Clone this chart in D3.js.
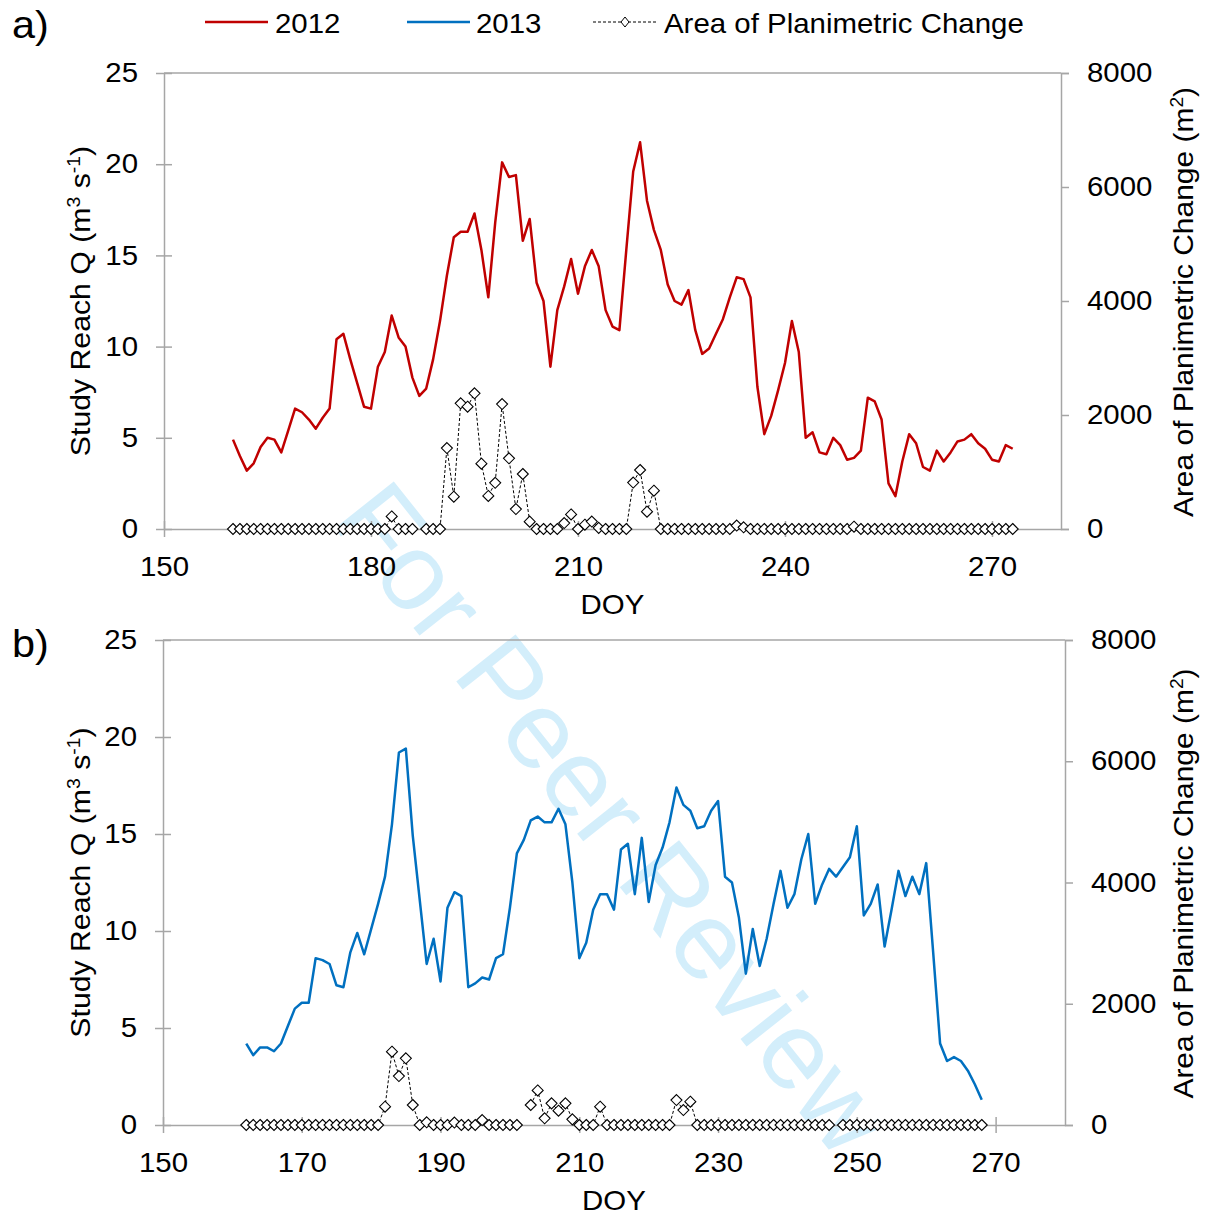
<!DOCTYPE html>
<html>
<head>
<meta charset="utf-8">
<script src="https://cdn.jsdelivr.net/npm/d3@7"></script>
<style>
body { margin: 0; background: #fff; }
text { font-family: "Liberation Sans", Arial, sans-serif; fill: #000; }
</style>
</head>
<body>
<svg id="chart" width="1205" height="1216"></svg>
<script>
// Day of year for each daily value
const doy_2012 = d3.range(160, 274);
const doy_2013 = d3.range(162, 269);

// Study reach discharge (m3 s-1), 2012
const q_2012 = [
    4.9, 4.0, 3.2, 3.6, 4.5, 5.0, 4.9, 4.2, 5.4, 6.6,
    6.4, 6.0, 5.5, 6.1, 6.6, 10.4, 10.7, 9.3, 8.0, 6.7,
    6.6, 8.9, 9.7, 11.7, 10.5, 10.0, 8.3, 7.3, 7.7, 9.3,
    11.4, 13.9, 16.0, 16.3, 16.3, 17.3, 15.3, 12.7, 16.8, 20.1,
    19.3, 19.4, 15.8, 17.0, 13.5, 12.5, 8.9, 12.0, 13.3, 14.8,
    12.9, 14.4, 15.3, 14.4, 12.0, 11.1, 10.9, 15.3, 19.6, 21.2,
    18.0, 16.4, 15.3, 13.4, 12.5, 12.3, 13.1, 10.9, 9.6, 9.9,
    10.7, 11.5, 12.7, 13.8, 13.7, 12.7, 7.8, 5.2, 6.2, 7.6,
    9.1, 11.4, 9.7, 5.0, 5.3, 4.2, 4.1, 5.0, 4.6, 3.8,
    3.9, 4.3, 7.2, 7.0, 6.0, 2.5, 1.8, 3.7, 5.2, 4.7,
    3.4, 3.2, 4.3, 3.7, 4.2, 4.8, 4.9, 5.2, 4.7, 4.4,
    3.8, 3.7, 4.6, 4.4,
];

// Area of planimetric change (m2), 2012; null = no survey that day
const area_2012 = [
    0, 0, 0, 0, 0, 0, 0, 0, 0, 0,
    0, 0, 0, 0, 0, 0, 0, 0, 0, 0,
    0, 0, 0, 220, 0, 0, 0, null, 0, 0,
    0, 1420, 567, 2205, 2146, 2380, 1146, 580, 810, 2192,
    1240, 350, 965, 129, 0, 0, 0, 0, 105, 255,
    0, 75, 130, 20, 0, 0, 0, 0, 815, 1035,
    304, 672, 0, 0, 0, 0, 0, 0, 0, 0,
    0, 0, 0, 60, 30, 0, 0, 0, 0, 0,
    0, 0, 0, 0, 0, 0, 0, 0, 0, 0,
    40, 0, 0, 0, 0, 0, 0, 0, 0, 0,
    0, 0, 0, 0, 0, 0, 0, 0, 0, 0,
    0, 0, 0, 0,
];

// Study reach discharge (m3 s-1), 2013
const q_2013 = [
    4.2, 3.6, 4.0, 4.0, 3.8, 4.2, 5.1, 6.0, 6.3, 6.3,
    8.6, 8.5, 8.3, 7.2, 7.1, 8.9, 9.9, 8.8, 10.1, 11.4,
    12.8, 15.5, 19.2, 19.4, 14.9, 11.6, 8.3, 9.6, 7.4, 11.2,
    12.0, 11.8, 7.1, 7.3, 7.6, 7.5, 8.6, 8.8, 11.2, 14.0,
    14.7, 15.7, 15.9, 15.6, 15.6, 16.3, 15.5, 12.5, 8.6, 9.4,
    11.1, 11.9, 11.9, 11.1, 14.2, 14.5, 11.9, 14.8, 11.5, 13.4,
    14.3, 15.6, 17.4, 16.5, 16.2, 15.3, 15.4, 16.2, 16.7, 12.8,
    12.5, 10.7, 7.8, 10.1, 8.2, 9.6, 11.4, 13.1, 11.2, 11.9,
    13.7, 15.0, 11.4, 12.4, 13.2, 12.8, 13.3, 13.8, 15.4, 10.8,
    11.4, 12.4, 9.2, 11.1, 13.1, 11.8, 12.8, 11.9, 13.5, 8.9,
    4.2, 3.3, 3.5, 3.3, 2.8, 2.1, 1.3,
];

// Area of planimetric change (m2), 2013
const area_2013 = [
    0, 0, 0, 0, 0, 0, 0, 0, 0, 0,
    0, 0, 0, 0, 0, 0, 0, 0, 0, 0,
    302, 1209, 808, 1100, 330, 0, 45, 0, 0, 0,
    40, 0, 0, 0, 82, 0, 0, 0, 0, 0,
    null, 330, 570, 110, 357, 236, 357, 93, 0, 0,
    0, 302, 0, 0, 0, 0, 0, 0, 0, 0,
    0, 0, 412, 247, 385, 0, 0, 0, 0, 0,
    0, 0, 0, 0, 0, 0, 0, 0, 0, 0,
    0, 0, 0, 0, 0, null, 0, 0, 0, 0,
    0, 0, 0, 0, 0, 0, 0, 0, 0, 0,
    0, 0, 0, 0, 0, 0, 0,
];

const x_ticks_a = [150, 180, 210, 240, 270];
const x_ticks_b = [150, 170, 190, 210, 230, 250, 270];
const q_ticks = [0, 5, 10, 15, 20, 25];
const area_ticks = [0, 2000, 4000, 6000, 8000];

const AXIS_GREY = '#a6a6a6';
const FONT = 27;
// the source figure's text is a little wider than Liberation Sans
const SX = 1.09;

const svg = d3.select('#chart');

// Watermark
svg.append('text')
    .attr('transform', 'translate(614, 818) rotate(51.5)')
    .attr('text-anchor', 'middle')
    .attr('dy', '0.35em')
    .attr('font-size', 110)
    .style('fill', '#d3eefb')
    .text('For Peer Review');

function zip(xs, ys) {
    return xs.map((d, i) => ({doy: d, value: ys[i]}));
}

function diamond(r) {
    return `M0,${-r}L${r},0L0,${r}L${-r},0Z`;
}

// text placed at (x, y) and stretched horizontally
function add_text(parent, x, y, size, str) {
    return parent.append('text')
        .attr('transform', `translate(${x}, ${y}) scale(${SX}, 1)`)
        .attr('font-size', size)
        .text(str);
}

function style_axis(g) {
    g.attr('font-size', null).attr('font-family', null);
    g.selectAll('path, line')
        .attr('stroke', AXIS_GREY)
        .attr('stroke-width', 1.5);
    g.selectAll('text')
        .attr('font-size', FONT)
        .attr('transform', `scale(${SX}, 1)`);
}

function draw_panel(cfg) {
    const x = d3.scaleLinear().domain([150, 280]).range([cfg.left, cfg.right]);
    const y = d3.scaleLinear().domain([0, 25]).range([cfg.bottom, cfg.top]);
    const y2 = d3.scaleLinear().domain([0, 8000]).range([cfg.bottom, cfg.top]);

    svg.append('line')
        .attr('x1', cfg.left).attr('x2', cfg.right)
        .attr('y1', cfg.top).attr('y2', cfg.top)
        .attr('stroke', AXIS_GREY).attr('stroke-width', 1.5);

    const gx = svg.append('g')
        .attr('transform', `translate(0, ${cfg.bottom})`)
        .call(d3.axisBottom(x).tickValues(cfg.x_ticks).tickSizeOuter(0)
            .tickFormat(d3.format('d')));
    style_axis(gx);
    gx.selectAll('.tick line').attr('y1', -8).attr('y2', 8);
    gx.selectAll('.tick text').attr('y', 47).attr('dy', null);

    const gy = svg.append('g')
        .attr('transform', `translate(${cfg.left}, 0)`)
        .call(d3.axisLeft(y).tickValues(q_ticks).tickSizeOuter(0));
    style_axis(gy);
    gy.selectAll('.tick line').attr('x1', 8).attr('x2', -8);
    gy.selectAll('.tick text').attr('x', -26 / SX);

    const gy2 = svg.append('g')
        .attr('transform', `translate(${cfg.right}, 0)`)
        .call(d3.axisRight(y2).tickValues(area_ticks).tickSizeOuter(0).tickSize(8)
            .tickFormat(d3.format('d')));
    style_axis(gy2);
    gy2.selectAll('.tick text').attr('x', 26 / SX);

    // axis titles
    add_text(svg, (cfg.left + cfg.right) / 2, cfg.bottom + 85, FONT, 'DOY')
        .attr('text-anchor', 'middle');

    const q_title = svg.append('text')
        .attr('transform', `translate(90, ${(cfg.top + cfg.bottom) / 2}) rotate(-90) scale(1.08, 1)`)
        .attr('text-anchor', 'middle')
        .attr('font-size', 28);
    q_title.append('tspan').text('Study Reach Q (m');
    q_title.append('tspan').attr('dy', -10).attr('font-size', 18).text('3');
    q_title.append('tspan').attr('dy', 10).text(' s');
    q_title.append('tspan').attr('dy', -10).attr('font-size', 18).text('-1');
    q_title.append('tspan').attr('dy', 10).text(')');

    const a_title = svg.append('text')
        .attr('transform', `translate(1193, ${(cfg.top + cfg.bottom) / 2 + 1}) rotate(-90) scale(1.07, 1)`)
        .attr('text-anchor', 'middle')
        .attr('font-size', 28);
    a_title.append('tspan').text('Area of Planimetric Change (m');
    a_title.append('tspan').attr('dy', -10).attr('font-size', 18).text('2');
    a_title.append('tspan').attr('dy', 10).text(')');

    add_text(svg, 12, cfg.label_y, 38, cfg.label);

    // discharge
    const q_points = zip(cfg.doy, cfg.q);
    svg.append('path')
        .datum(q_points)
        .attr('fill', 'none')
        .attr('stroke', cfg.color)
        .attr('stroke-width', 2.5)
        .attr('stroke-linejoin', 'round')
        .attr('d', d3.line().x((d) => x(d.doy)).y((d) => y(d.value)));

    // planimetric change
    const a_points = zip(cfg.doy, cfg.area);
    svg.append('path')
        .datum(a_points)
        .attr('fill', 'none')
        .attr('stroke', '#000')
        .attr('stroke-width', 1)
        .attr('stroke-dasharray', '3,2')
        .attr('d', d3.line()
            .defined((d) => d.value !== null)
            .x((d) => x(d.doy)).y((d) => y2(d.value)));

    svg.append('g')
        .selectAll('path')
        .data(a_points.filter((d) => d.value !== null))
        .join('path')
            .attr('transform', (d) => `translate(${x(d.doy)}, ${y2(d.value)})`)
            .attr('d', diamond(5.5))
            .attr('fill', '#fff')
            .attr('stroke', '#000')
            .attr('stroke-width', 1.1);
}

draw_panel({
    label: 'a)', label_y: 38,
    left: 164, right: 1061, top: 73, bottom: 529,
    x_ticks: x_ticks_a,
    doy: doy_2012, q: q_2012, area: area_2012,
    color: '#c00000',
});

draw_panel({
    label: 'b)', label_y: 657,
    left: 163, right: 1065, top: 640, bottom: 1125,
    x_ticks: x_ticks_b,
    doy: doy_2013, q: q_2013, area: area_2013,
    color: '#0070c0',
});

// legend
const legend = svg.append('g');
legend.append('line')
    .attr('x1', 205).attr('x2', 268).attr('y1', 22).attr('y2', 22)
    .attr('stroke', '#c00000').attr('stroke-width', 2.5);
add_text(legend, 275, 33, FONT, '2012');
legend.append('line')
    .attr('x1', 407).attr('x2', 470).attr('y1', 22).attr('y2', 22)
    .attr('stroke', '#0070c0').attr('stroke-width', 2.5);
add_text(legend, 476, 33, FONT, '2013');
legend.append('line')
    .attr('x1', 593).attr('x2', 657).attr('y1', 22).attr('y2', 22)
    .attr('stroke', '#000').attr('stroke-width', 1)
    .attr('stroke-dasharray', '3,2');
legend.append('path')
    .attr('transform', 'translate(625, 22)')
    .attr('d', 'M0,-5L4,0L0,5L-4,0Z')
    .attr('fill', '#fff').attr('stroke', '#000').attr('stroke-width', 1);
add_text(legend, 664, 33, FONT, 'Area of Planimetric Change');
</script>
</body>
</html>
